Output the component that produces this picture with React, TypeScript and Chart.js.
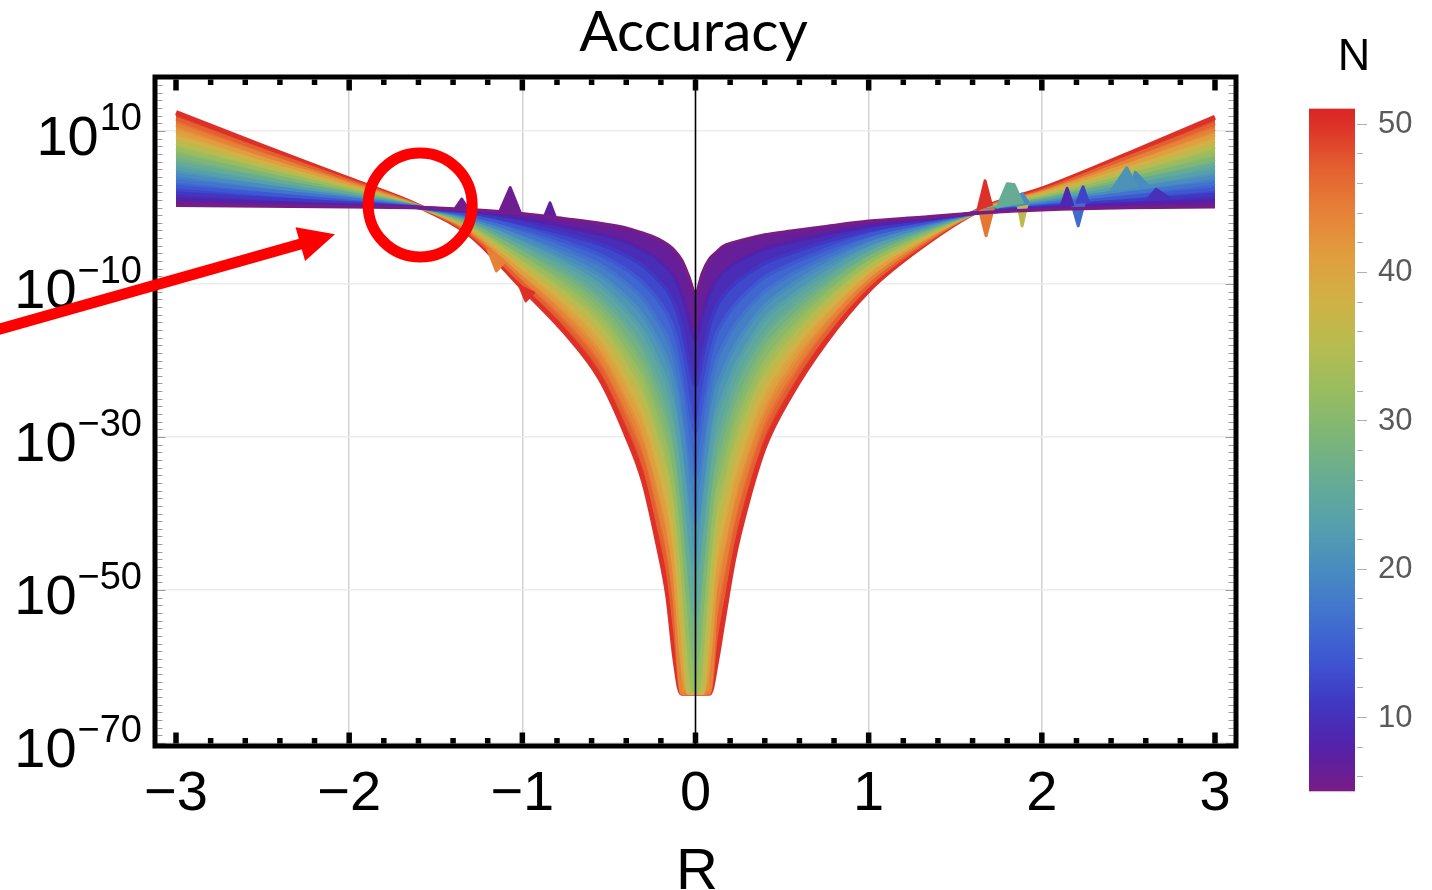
import React, { useEffect, useRef } from "react";
import { Chart, registerables } from "chart.js";

Chart.register(...registerables);

// ---------------- data (log10 of accuracy) ----------------
const rGrid = [-3.0, -2.5, -2.0, -1.6, -1.3, -1.0, -0.75, -0.55, -0.4, -0.3, -0.22, -0.16, -0.12, -0.08, -0.04, 0,
  0.04, 0.08, 0.12, 0.16, 0.22, 0.3, 0.4, 0.55, 0.75, 1.0, 1.3, 1.65, 2.0, 2.5, 3.0];

const curveN = [5, 8, 11, 14, 17, 20, 23, 26, 29, 32, 35, 38, 41, 44, 47, 50];

const logAccN5 = [0.3, 0.2, 0.1, 0.0, -0.3, -0.8, -1.5, -2.1, -2.7, -3.4, -4.1, -4.9, -5.7, -6.9, -9.0, -11.3, -8.6, -6.8, -5.9, -5.1, -4.6, -4.1, -3.6, -3.1, -2.5, -1.8, -1.3, -0.7, -0.3, 0.0, 0.1];
const logAccN8 = [1.1, 0.7, 0.3, 0.0, -0.5, -1.4, -2.5, -3.5, -4.5, -5.6, -6.7, -8.0, -9.2, -11.3, -14.4, -17.3, -14.0, -11.2, -9.5, -8.4, -7.4, -6.4, -5.4, -4.5, -3.5, -2.4, -1.6, -0.7, -0.1, 0.5, 0.9];
const logAccN11 = [1.9, 1.2, 0.6, 0.0, -0.7, -2.1, -3.5, -4.8, -6.3, -7.7, -9.4, -11.0, -12.8, -15.6, -19.8, -23.3, -19.4, -15.5, -13.0, -11.6, -10.1, -8.7, -7.3, -6.0, -4.5, -3.0, -1.8, -0.6, 0.1, 0.9, 1.7];
const logAccN14 = [2.7, 1.8, 0.8, 0.0, -1.0, -2.7, -4.5, -6.2, -8.1, -9.9, -12.0, -14.1, -16.3, -20.0, -25.2, -29.3, -24.8, -19.9, -16.6, -14.9, -12.9, -11.0, -9.1, -7.4, -5.5, -3.6, -2.1, -0.6, 0.2, 1.4, 2.4];
const logAccN17 = [3.5, 2.3, 1.1, 0.0, -1.2, -3.4, -5.5, -7.5, -9.9, -12.0, -14.7, -17.1, -19.9, -24.3, -30.6, -35.3, -30.2, -24.2, -20.2, -18.1, -15.6, -13.3, -11.0, -8.8, -6.5, -4.2, -2.3, -0.6, 0.4, 1.9, 3.2];
const logAccN20 = [4.3, 2.8, 1.3, 0.1, -1.4, -4.0, -6.5, -8.9, -11.7, -14.2, -17.3, -20.2, -23.4, -28.7, -36.0, -41.3, -35.6, -28.6, -23.8, -21.4, -18.4, -15.6, -12.8, -10.2, -7.5, -4.8, -2.6, -0.5, 0.6, 2.3, 4.0];
const logAccN23 = [5.1, 3.3, 1.5, 0.1, -1.6, -4.7, -7.4, -10.2, -13.5, -16.4, -19.9, -23.3, -26.9, -33.0, -41.4, -47.3, -41.0, -32.9, -27.3, -24.7, -21.2, -17.9, -14.6, -11.7, -8.6, -5.4, -2.9, -0.5, 0.8, 2.8, 4.8];
const logAccN26 = [5.9, 3.8, 1.8, 0.1, -1.8, -5.3, -8.4, -11.6, -15.3, -18.5, -22.6, -26.3, -30.5, -37.4, -46.8, -53.3, -46.4, -37.3, -30.9, -27.9, -23.9, -20.1, -16.5, -13.1, -9.6, -6.0, -3.1, -0.5, 1.0, 3.3, 5.6];
const logAccN29 = [6.8, 4.4, 2.0, 0.1, -2.1, -6.0, -9.4, -12.9, -17.1, -20.7, -25.2, -29.4, -34.0, -41.7, -52.2, -59.3, -51.8, -41.6, -34.5, -31.2, -26.7, -22.4, -18.3, -14.5, -10.6, -6.6, -3.4, -0.4, 1.1, 3.7, 6.3];
const logAccN32 = [7.6, 4.9, 2.3, 0.1, -2.3, -6.6, -10.4, -14.3, -18.9, -22.8, -27.9, -32.4, -37.6, -46.1, -57.6, -63.5, -57.2, -46.0, -38.0, -34.5, -29.4, -24.7, -20.2, -16.0, -11.6, -7.2, -3.7, -0.4, 1.3, 4.2, 7.1];
const logAccN35 = [8.4, 5.4, 2.5, 0.1, -2.5, -7.3, -11.4, -15.6, -20.7, -25.0, -30.5, -35.5, -41.1, -50.4, -63.0, -63.5, -62.6, -50.3, -41.6, -37.7, -32.2, -27.0, -22.0, -17.4, -12.6, -7.8, -3.9, -0.4, 1.5, 4.7, 7.9];
const logAccN38 = [9.2, 5.9, 2.7, 0.1, -2.7, -7.9, -12.4, -17.0, -22.5, -27.2, -33.1, -38.6, -44.6, -54.8, -63.5, -63.5, -63.5, -54.7, -45.2, -41.0, -35.0, -29.3, -23.8, -18.8, -13.6, -8.4, -4.2, -0.3, 1.7, 5.1, 8.7];
const logAccN41 = [10.0, 6.4, 3.0, 0.1, -2.9, -8.6, -13.4, -18.3, -24.3, -29.3, -35.8, -41.6, -48.2, -59.1, -63.5, -63.5, -63.5, -59.0, -48.7, -44.2, -37.7, -31.6, -25.7, -20.2, -14.6, -9.0, -4.4, -0.3, 1.9, 5.6, 9.5];
const logAccN44 = [10.8, 6.9, 3.2, 0.2, -3.1, -9.2, -14.4, -19.7, -26.1, -31.5, -38.4, -44.7, -51.7, -63.5, -63.5, -63.5, -63.5, -63.4, -52.3, -47.5, -40.5, -33.9, -27.5, -21.7, -15.6, -9.6, -4.7, -0.3, 2.0, 6.1, 10.2];
const logAccN47 = [11.6, 7.5, 3.5, 0.2, -3.4, -9.9, -15.4, -21.0, -27.9, -33.6, -41.1, -47.7, -55.3, -63.5, -63.5, -63.5, -63.5, -63.5, -55.9, -50.8, -43.2, -36.2, -29.4, -23.1, -16.6, -10.2, -5.0, -0.2, 2.2, 6.6, 11.0];
const logAccN50 = [12.4, 8.0, 3.7, 0.2, -3.6, -10.5, -16.4, -22.4, -29.7, -35.8, -43.7, -50.8, -58.8, -63.5, -63.5, -63.5, -63.5, -63.5, -59.5, -54.0, -46.0, -38.5, -31.2, -24.5, -17.6, -10.8, -5.2, -0.2, 2.4, 7.0, 11.8];

const curveLogAcc = [logAccN5, logAccN8, logAccN11, logAccN14, logAccN17, logAccN20, logAccN23, logAccN26,
  logAccN29, logAccN32, logAccN35, logAccN38, logAccN41, logAccN44, logAccN47, logAccN50];

// numerical noise spikes (R, log10 accuracy, curve N)
const spikeN = [6, 6, 7, 44, 50, 50, 45, 26, 20, 36, 9, 12, 16, 21, 20, 10];
const spikeR = [
  [-1.39, -1.35, -1.31],
  [-1.13, -1.07, -1.01],
  [-0.88, -0.84, -0.8],
  [-1.2, -1.15, -1.1],
  [-1.02, -0.98, -0.93],
  [1.63, 1.672, 1.71],
  [1.64, 1.678, 1.72],
  [1.74, 1.8, 1.84, 1.89],
  [1.85, 1.886, 1.93],
  [1.86, 1.886, 1.92],
  [2.11, 2.146, 2.18],
  [2.2, 2.238, 2.27],
  [2.17, 2.21, 2.25],
  [2.4, 2.49, 2.55],
  [2.51, 2.54, 2.62],
  [2.6, 2.66, 2.75],
];
const spikeLogAcc = [
  [-0.2, 1.1, -0.3],
  [-0.5, 2.6, -0.8],
  [-1.6, 0.6, -1.8],
  [-5.4, -8.3, -7.0],
  [-10.0, -12.2, -11.0],
  [-0.4, 3.5, 0.2],
  [-0.3, -3.7, -0.1],
  [-0.1, 3.1, 3.0, 0.5],
  [0.1, 1.8, 0.4],
  [0.7, -2.4, 1.0],
  [0.1, 2.5, 0.2],
  [0.5, 2.7, 0.6],
  [0.8, -2.4, 1.0],
  [2.1, 5.2, 2.6],
  [2.3, 4.6, 2.7],
  [0.8, 2.4, 1.0],
];

// axes / colour bar
const xMajorTicks = [-3, -2, -1, 0, 1, 2, 3];
const xGridValues = [-2, -1, 1, 2];
const yTickExponents = [10, -10, -30, -50, -70];
const colorbarTicks = [10, 20, 30, 40, 50];
const colorbarRange = [5, 51];

// annotations (data coordinates)
const circleCenter = { r: -1.59, logAcc: 0.33 };
const arrowTail = { r: -4.02, logAcc: -15.9 };
const arrowTip = { r: -2.082, logAcc: -3.5 };

// colour map (rainbow, by N)
const colorStopN = [5, 8, 11, 14, 17, 20, 23, 26, 29, 32, 35, 38, 41, 44, 47, 50, 51];
const colorStopRGB = [
  [120, 28, 134], [84, 34, 170], [64, 56, 196], [62, 88, 210], [66, 116, 206], [72, 140, 192],
  [86, 160, 172], [102, 172, 148], [126, 182, 118], [152, 188, 96], [182, 188, 80], [208, 178, 70],
  [224, 158, 62], [230, 130, 56], [228, 96, 48], [220, 48, 40], [218, 38, 38],
];

function colorForN(n: number): string {
  if (n <= colorStopN[0]) return `rgb(${colorStopRGB[0].join(",")})`;
  for (let i = 1; i < colorStopN.length; i++) {
    if (n <= colorStopN[i]) {
      const t = (n - colorStopN[i - 1]) / (colorStopN[i] - colorStopN[i - 1]);
      const a = colorStopRGB[i - 1], b = colorStopRGB[i];
      const c = a.map((v, k) => Math.round(v + (b[k] - v) * t));
      return `rgb(${c.join(",")})`;
    }
  }
  return `rgb(${colorStopRGB[colorStopRGB.length - 1].join(",")})`;
}

const LABEL_FONT = '"Liberation Sans", Arial, Helvetica, sans-serif';

const decorPlugin = {
  id: "decor",
  afterDatasetsDraw(chart: any) {
    const { ctx, chartArea: a, scales } = chart;
    const x0 = scales.x.getPixelForValue(0);
    ctx.save();
    ctx.strokeStyle = "#000";
    ctx.lineWidth = 1.6;
    ctx.beginPath();
    ctx.moveTo(x0, a.top);
    ctx.lineTo(x0, a.bottom);
    ctx.stroke();
    ctx.restore();
  },
  afterDraw(chart: any) {
    const { ctx, chartArea: a, scales } = chart;
    const xs = scales.x, ys = scales.y;
    ctx.save();

    // y minor/major ticks (thin gray) on left and right frame
    ctx.strokeStyle = "#9c9c9c";
    ctx.lineWidth = 1;
    for (let e = -70; e <= 16; e++) {
      const py = Math.round(ys.getPixelForValue(Math.pow(10, e))) + 0.5;
      const len = yTickExponents.includes(e) ? 8 : 5;
      ctx.beginPath();
      ctx.moveTo(a.left + 2.5, py);
      ctx.lineTo(a.left + 2.5 + len, py);
      ctx.moveTo(a.right - 2.5, py);
      ctx.lineTo(a.right - 2.5 - len, py);
      ctx.stroke();
    }

    // frame
    ctx.strokeStyle = "#000";
    ctx.lineWidth = 5;
    ctx.strokeRect(a.left, a.top, a.right - a.left, a.bottom - a.top);

    // x ticks (thick, top & bottom)
    ctx.fillStyle = "#000";
    const drawXTick = (v: number, len: number) => {
      const px = xs.getPixelForValue(v);
      ctx.fillRect(px - 2.75, a.bottom - 2.5 - len, 5.5, len);
      ctx.fillRect(px - 2.75, a.top + 2.5, 5.5, len);
    };
    for (let i = 0; i < xMajorTicks.length; i++) {
      drawXTick(xMajorTicks[i], 11);
      if (i < xMajorTicks.length - 1) {
        const step = (xMajorTicks[i + 1] - xMajorTicks[i]) / 5;
        for (let j = 1; j < 5; j++) drawXTick(xMajorTicks[i] + j * step, 5.5);
      }
    }

    // x tick labels
    ctx.fillStyle = "#000";
    ctx.textAlign = "center";
    ctx.textBaseline = "alphabetic";
    ctx.font = `56px ${LABEL_FONT}`;
    for (const v of xMajorTicks) {
      const txt = v < 0 ? "\u2212" + Math.abs(v) : String(v);
      ctx.fillText(txt, xs.getPixelForValue(v), 810);
    }
    // x axis title
    ctx.font = `58px ${LABEL_FONT}`;
    ctx.fillText("R", xs.getPixelForValue(0) + 1.5, 889);

    // y tick labels 10^e
    for (const e of yTickExponents) {
      const py = ys.getPixelForValue(Math.pow(10, e));
      const expText = e < 0 ? "\u2212" + Math.abs(e) : String(e);
      ctx.textAlign = "right";
      ctx.font = `38px ${LABEL_FONT}`;
      const w = ctx.measureText(expText).width;
      ctx.fillText(expText, 142, py - 1);
      ctx.font = `56px ${LABEL_FONT}`;
      ctx.fillText("10", 142 - w - 1, py + 23.5);
    }

    // title
    ctx.textAlign = "center";
    ctx.font = '57px Lato, "Open Sans", sans-serif';
    ctx.fillText("Accuracy", (a.left + a.right) / 2 - 2, 51);

    // colour bar
    const cbX = 1309, cbW = 46;
    const cbY = (n: number) => 123.5 + (50 - n) * 14.84;
    const yTop = cbY(colorbarRange[1]), yBot = cbY(colorbarRange[0]);
    const grad = ctx.createLinearGradient(0, yBot, 0, yTop);
    colorStopN.forEach((n) => {
      grad.addColorStop((n - colorbarRange[0]) / (colorbarRange[1] - colorbarRange[0]), colorForN(n));
    });
    ctx.fillStyle = grad;
    ctx.fillRect(cbX, yTop, cbW, yBot - yTop);
    ctx.strokeStyle = "#b0b0b0";
    ctx.lineWidth = 1;
    for (let n = 6; n <= 50; n += 2) {
      const py = Math.round(cbY(n)) + 0.5;
      const len = colorbarTicks.includes(n) ? 10 : 6;
      ctx.beginPath();
      ctx.moveTo(cbX + cbW + 2, py);
      ctx.lineTo(cbX + cbW + 2 + len, py);
      ctx.stroke();
    }
    ctx.fillStyle = "#5a5a5a";
    ctx.textAlign = "left";
    ctx.textBaseline = "middle";
    ctx.font = `31px ${LABEL_FONT}`;
    for (const n of colorbarTicks) ctx.fillText(String(n), 1378, cbY(n) + 1);
    ctx.fillStyle = "#000";
    ctx.textAlign = "center";
    ctx.textBaseline = "alphabetic";
    ctx.font = `45px ${LABEL_FONT}`;
    ctx.fillText("N", 1354, 70);

    // annotations: red circle and arrow
    ctx.strokeStyle = "#ff0000";
    ctx.fillStyle = "#ff0000";
    ctx.lineWidth = 11;
    const cx = xs.getPixelForValue(circleCenter.r), cy = ys.getPixelForValue(Math.pow(10, circleCenter.logAcc));
    ctx.beginPath();
    ctx.arc(cx, cy, 52, 0, Math.PI * 2);
    ctx.stroke();

    const tx = xs.getPixelForValue(arrowTail.r), ty = ys.getPixelForValue(Math.pow(10, arrowTail.logAcc));
    const hx = xs.getPixelForValue(arrowTip.r), hy = ys.getPixelForValue(Math.pow(10, arrowTip.logAcc));
    const dx = hx - tx, dy = hy - ty, len = Math.hypot(dx, dy);
    const ux = dx / len, uy = dy / len, nx = -uy, ny = ux;
    const headLen = 36, headHalf = 17.5;
    ctx.lineCap = "butt";
    ctx.beginPath();
    ctx.moveTo(tx - ux * 10, ty - uy * 10);
    ctx.lineTo(hx - ux * (headLen - 4), hy - uy * (headLen - 4));
    ctx.stroke();
    ctx.beginPath();
    ctx.moveTo(hx, hy);
    ctx.lineTo(hx - ux * headLen + nx * headHalf, hy - uy * headLen + ny * headHalf);
    ctx.lineTo(hx - ux * headLen - nx * headHalf, hy - uy * headLen - ny * headHalf);
    ctx.closePath();
    ctx.fill();

    ctx.restore();
  },
};

export default function App() {
  const canvasRef = useRef<HTMLCanvasElement | null>(null);

  useEffect(() => {
    if (!canvasRef.current) return;

    const makeCurve = (k: number, fillTarget: number | false) => ({
      label: `N = ${curveN[k]}`,
      data: rGrid.map((r, j) => ({ x: r, y: Math.pow(10, curveLogAcc[k][j]) })),
      borderColor: colorForN(curveN[k]),
      backgroundColor: colorForN(k > 0 ? (curveN[k] + curveN[k - 1]) / 2 : curveN[k]),
      borderWidth: k === curveN.length - 1 ? 5 : 3.5,
      pointRadius: 0,
      cubicInterpolationMode: "monotone" as const,
      fill: fillTarget,
    });

    const datasets: any[] = [];
    datasets.push(makeCurve(0, false));
    spikeN.forEach((n, s) => {
      datasets.push({
        label: `noise ${s}`,
        data: spikeR[s].map((r, j) => ({ x: r, y: Math.pow(10, spikeLogAcc[s][j]) })),
        borderColor: colorForN(n),
        backgroundColor: colorForN(n),
        borderWidth: 3,
        borderJoinStyle: "round",
        pointRadius: 0,
        tension: 0,
        fill: "shape",
      });
    });
    const firstCurveIdx = datasets.length;
    for (let k = 1; k < curveN.length; k++) {
      datasets.push(makeCurve(k, k === 1 ? 0 : firstCurveIdx + k - 2));
    }

    const chart = new Chart(canvasRef.current, {
      type: "line",
      data: { datasets },
      plugins: [decorPlugin],
      options: {
        responsive: false,
        animation: false,
        devicePixelRatio: 1,
        events: [],
        layout: { padding: { left: 155, top: 77, right: 196, bottom: 144 } },
        plugins: {
          legend: { display: false },
          tooltip: { enabled: false },
          title: { display: false },
          filler: { propagate: false },
        },
        scales: {
          x: {
            type: "linear",
            min: -3.1213,
            max: 3.1213,
            ticks: { display: false },
            border: { display: false },
            grid: { drawTicks: false, color: "#d2d2d2", lineWidth: 1.5 },
            afterBuildTicks: (scale: any) => {
              scale.ticks = xGridValues.map((v) => ({ value: v }));
            },
            afterFit: (scale: any) => {
              scale.height = 0;
            },
          },
          y: {
            type: "logarithmic",
            min: Math.pow(10, -70.39),
            max: Math.pow(10, 17.06),
            ticks: { display: false },
            border: { display: false },
            grid: { drawTicks: false, color: "#ececec", lineWidth: 1.5 },
            afterBuildTicks: (scale: any) => {
              scale.ticks = yTickExponents.map((e) => ({ value: Math.pow(10, e) }));
            },
            afterFit: (scale: any) => {
              scale.width = 0;
            },
          },
        },
      } as any,
    });

    let alive = true;
    if ((document as any).fonts && (document as any).fonts.ready) {
      (document as any).fonts.ready.then(() => {
        if (alive) chart.render();
      });
    }

    return () => {
      alive = false;
      chart.destroy();
    };
  }, []);

  return (
    <div style={{ position: "absolute", left: 0, top: 0, width: 1432, height: 890, background: "#fff" }}>
      <canvas ref={canvasRef} width={1432} height={890} style={{ display: "block" }} />
    </div>
  );
}
